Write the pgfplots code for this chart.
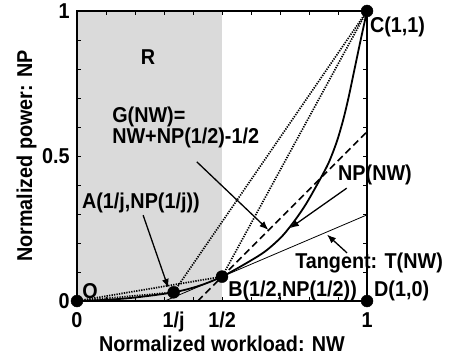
\documentclass[border=0pt]{standalone}
\usepackage{pgfplots}
\pgfplotsset{compat=1.18}
\usepackage{fontspec}
\setmainfont{Liberation Sans}[FakeStretch=0.92]
\usetikzlibrary{arrows.meta}
\newcommand{\fnt}{\fontsize{21.5}{25}\selectfont\bfseries}
\begin{document}
\fnt
\begin{tikzpicture}[
 annot/.style={anchor=west, inner sep=0pt, font=\fnt},
 arr/.style={line width=1.3pt, -{Latex[length=9pt,width=7pt]}},
 dotsty/.style={line width=1.7pt, dash pattern=on 1.3pt off 1.2pt},
]
\useasboundingbox (-77pt,-55pt) rectangle (377pt,301pt);
\begin{axis}[
 at={(0,0)}, anchor=south west,
 scale only axis, width=290pt, height=290pt,
 xmin=0,xmax=1,ymin=0,ymax=1,
 clip=false, axis on top=true,
 axis line style={line width=1.5pt},
 xtick={0,0.3333,0.5,1}, xticklabels={0,1/j,1/2,1},
 ytick={0,0.5,1}, yticklabels={0,0.5,1},
 major tick length=0pt,
 minor xtick={0.1,0.2,0.3,0.4,0.5,0.6,0.7,0.8,0.9},
 minor ytick={0.1,0.2,0.3,0.4,0.5,0.6,0.7,0.8,0.9},
 minor tick length=4pt, tick align=inside,
 every minor tick/.style={line width=0.8pt, black},
 tick label style={font=\fnt},
 xticklabel style={yshift=-4pt},
 xlabel={Normalized workload: NW}, ylabel={Normalized power: NP},
 label style={font=\fnt},
 xlabel style={yshift=11pt},
 ylabel style={yshift=-9pt},
]
% shaded region R
\addplot[fill={rgb,255:red,218;green,218;blue,218}, draw=none] coordinates {(0,1) (0.5,1)} \closedcycle;
% dotted chords
\addplot[dotsty] coordinates {(0,0) (0.3333,0.030)};
\addplot[dotsty] coordinates {(0,0) (0.5,0.084)};
\addplot[dotsty] coordinates {(0.3333,0.030) (1,1)};
\addplot[dotsty] coordinates {(0.5,0.084) (1,1)};
% G(NW)
\addplot[line width=1.6pt, dash pattern=on 7pt off 4pt] coordinates {(0.416,0) (1,0.584)};
% tangent
\addplot[line width=0.8pt] coordinates {(0.303,0) (1,0.297)};
% NP(NW)
\addplot[line width=1.8pt, smooth] coordinates {
(0,0) (0.1,0.004) (0.2,0.012) (0.3333,0.030) (0.42,0.052) (0.5,0.084)
(0.59,0.134) (0.65,0.172) (0.706,0.222) (0.752,0.279) (0.79,0.335)
(0.83,0.405) (0.867,0.475) (0.896,0.55) (0.918,0.625) (0.936,0.70)
(0.955,0.79) (0.976,0.89) (1,1)};
% points
\addplot[only marks, mark=*, mark size=6pt, black] coordinates {
(0,0) (0.3333,0.030) (0.5,0.084) (1,1) (1,0)};
% arrows
\draw[arr] (axis cs:0.228,0.296) -- (axis cs:0.315,0.045);
\draw[arr] (axis cs:0.413,0.480) -- (axis cs:0.660,0.245);
\draw[arr] (axis cs:0.930,0.389) -- (axis cs:0.734,0.251);
\draw[arr] (axis cs:0.931,0.166) -- (axis cs:0.862,0.229);
% labels
\node[annot, anchor=center] at (axis cs:0.245,0.841) {R};
\node[annot] at (axis cs:0.121,0.634) {G(NW)=};
\node[annot] at (axis cs:0.121,0.562) {NW+NP(1/2)-1/2};
\node[annot] at (axis cs:0.017,0.338) {A(1/j,NP(1/j))};
\node[annot, anchor=center] at (axis cs:0.045,0.034) {O};
\node[annot] at (axis cs:1.01,0.945) {C(1,1)};
\node[annot] at (axis cs:0.90,0.434) {NP(NW)};
\node[annot] at (axis cs:0.752,0.131) {Tangent: T(NW)};
\node[annot] at (axis cs:0.521,0.034) {B(1/2,NP(1/2))};
\node[annot] at (axis cs:1.024,0.034) {D(1,0)};
\end{axis}
\end{tikzpicture}
\end{document}
